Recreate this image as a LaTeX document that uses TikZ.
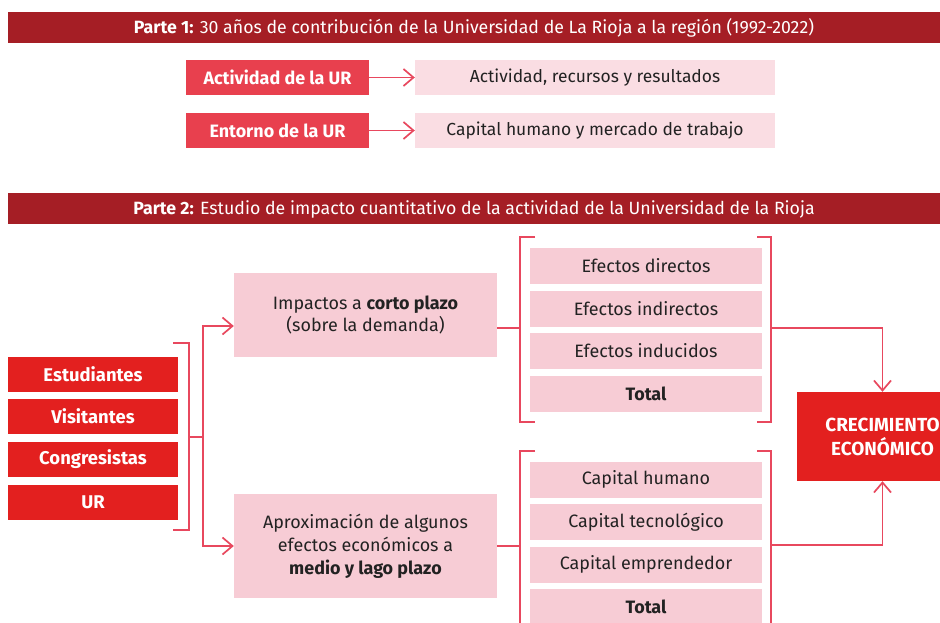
\documentclass[tikz,border=0pt]{standalone}
\usepackage{fontspec}
\setmainfont{Fira Sans}
\usetikzlibrary{arrows.meta}
\definecolor{barred}{HTML}{A51E25}
\definecolor{softred}{HTML}{E8404E}
\definecolor{boxred}{HTML}{E3201F}
\definecolor{boxpink}{HTML}{F7CCD5}
\definecolor{lightpink}{HTML}{FADDE3}
\definecolor{linered}{HTML}{E8485E}
\definecolor{txt}{HTML}{222222}
\tikzset{
    partbar/.style={fill=barred,text=white,minimum width=932bp,minimum height=31bp,inner sep=0pt,font=\fontsize{17.8}{20}\selectfont},
    unitbox/.style={fill=softred,text=white,minimum width=183bp,minimum height=35bp,inner sep=0pt,font=\fontsize{18}{21}\selectfont\bfseries},
    agentbox/.style={fill=boxred,text=white,minimum width=170bp,minimum height=35bp,inner sep=0pt,font=\fontsize{18.5}{21}\selectfont\bfseries},
    topicbox/.style={fill=lightpink,text=txt,minimum width=360bp,minimum height=35bp,inner sep=0pt,font=\fontsize{17.5}{20}\selectfont},
    effbox/.style={fill=boxpink,text=txt,minimum width=232bp,minimum height=36bp,inner sep=0pt,font=\fontsize{18}{21}\selectfont},
    plazobox/.style={fill=boxpink,text=txt,minimum width=263bp,inner sep=0pt,align=center,font=\fontsize{18}{23}\selectfont},
    link/.style={draw=linered,line width=1.7bp},
    arr/.style={link,-{Straight Barb[length=10bp,width=17bp,line width=1.7bp]}}
}
\begin{document}
\begin{tikzpicture}[x=1bp,y=-1bp]
    \useasboundingbox[fill=white] (0,0) rectangle (940,623);

    % parte 1
    \node[partbar] (bar1) at (474,28) {\textbf{Parte 1:} 30 años de contribución de la Universidad de La Rioja a la región (1992-2022)};
    \node[unitbox] (act) at (277.5,77.5) {Actividad de la UR};
    \node[unitbox] (ent) at (277.5,130.5) {Entorno de la UR};
    \node[topicbox] (actres) at (595,77.5) {Actividad, recursos y resultados};
    \node[topicbox] (entres) at (595,130.5) {Capital humano y mercado de trabajo};
    \draw[arr] (act) -- (actres);
    \draw[arr] (ent) -- (entres);

    % parte 2
    \node[partbar] (bar2) at (474,209) {\textbf{Parte 2:} Estudio de impacto cuantitativo de la actividad de la Universidad de la Rioja};
    \node[agentbox] (est) at (93,374) {Estudiantes};
    \node[agentbox] (vis) at (93,416.5) {Visitantes};
    \node[agentbox] (con) at (93,459) {Congresistas};
    \node[agentbox] (ur) at (93,502) {UR};

    \node[plazobox,minimum height=84bp] (corto) at (365.5,315) {Impactos a \textbf{corto plazo}\\(sobre la demanda)};
    \node[plazobox,minimum height=104bp] (medio) at (365.5,546) {Aproximación de algunos\\efectos económicos a\\\textbf{medio y lago plazo}};

    \node[effbox] (dir) at (646,266) {Efectos directos};
    \node[effbox] (ind) at (646,309) {Efectos indirectos};
    \node[effbox] (indu) at (646,351) {Efectos inducidos};
    \node[effbox] (tot1) at (646,394) {\textbf{Total}};
    \node[effbox] (hum) at (646,479.5) {Capital humano};
    \node[effbox] (tec) at (646,522) {Capital tecnológico};
    \node[effbox] (emp) at (646,564.5) {Capital emprendedor};
    \node[effbox] (tot2) at (646,607) {\textbf{Total}};

    \node[fill=boxred,text=white,minimum width=171bp,minimum height=89bp,inner sep=0pt,align=center,font=\fontsize{19}{24}\selectfont\bfseries] (crec) at (882.5,436.5) {CRECIMIENTO\\ECONÓMICO};

    % corchetes
    \draw[link] (173,343) -- (189,343) -- (189,530) -- (173,530);
    \draw[link] (535,237) -- (520,237) -- (520,422) -- (535,422);
    \draw[link] (757,237) -- (771,237) -- (771,422) -- (757,422);
    \draw[link] (535,451) -- (520,451) -- (520,640);
    \draw[link] (757,451) -- (771,451) -- (771,640);

    \coordinate (split) at (203,437);
    \coordinate (cortoin) at (520,328);
    \coordinate (medioin) at (520,546);
    \coordinate (cortoout) at (771,328);
    \coordinate (medioout) at (771,545);
    \draw[link] (189,437) -- (split);
    \draw[arr] (split) |- ([yshift=-11bp]corto.west);
    \draw[arr] (split) |- (medio.west);
    \draw[link] ([yshift=-13bp]corto.east) -- (cortoin);
    \draw[link] (medio.east) -- (medioin);
    \draw[arr] (cortoout) -| (crec.north);
    \draw[arr] (medioout) -| (crec.south);
\end{tikzpicture}
\end{document}
